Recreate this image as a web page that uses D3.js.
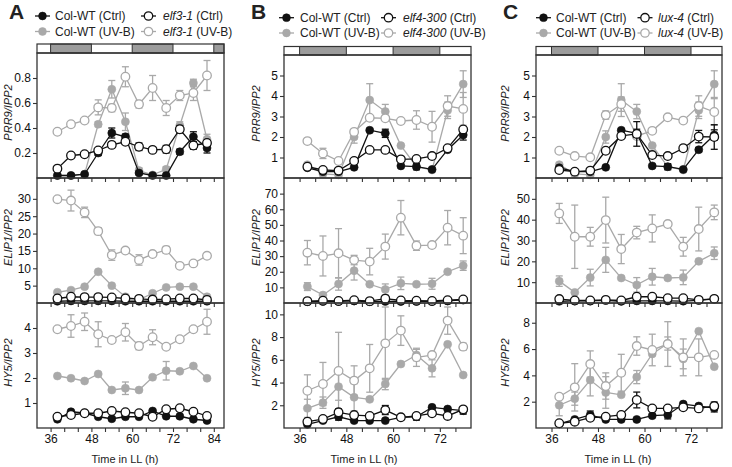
<!DOCTYPE html>
<html>
<head>
<meta charset="utf-8">
<script src="https://cdn.jsdelivr.net/npm/d3@7"></script>
<style>
  body { margin: 0; background: #fff; }
  svg { font-family: Arial, "Liberation Sans", sans-serif; }
</style>
</head>
<body>
<svg id="chart" width="732" height="467"></svg>
<script>
// sampling times (h in LL)
const timesA = [38, 42, 46, 50, 54, 58, 62, 66, 70, 74, 78, 82];
const timesBC = [38, 42, 46, 50, 54, 58, 62, 66, 70, 74, 78];
const xTicksA = [36, 40, 44, 48, 52, 56, 60, 64, 68, 72, 76, 80, 84];
const xTicksBC = [36, 40, 44, 48, 52, 56, 60, 64, 68, 72, 76];
const subjectiveNight = [[36, 48], [60, 72], [84, 96]];

// --- panel A (elf3-1) ---
const A_prr9_colCtrl = [0.02, 0.02, 0.03, 0.20, 0.36, 0.33, 0.04, 0.02, 0.02, 0.21, 0.33, 0.24];
const A_prr9_colCtrlErr = [0, 0, 0, 0.02, 0.04, 0.02, 0.01, 0, 0, 0.02, 0.04, 0.04];
const A_prr9_colUvb = [0.02, 0.02, 0.03, 0.43, 0.71, 0.45, 0.06, 0.025, 0.07, 0.42, 0.76, 0.31];
const A_prr9_colUvbErr = [0, 0, 0, 0.02, 0.07, 0.07, 0.02, 0, 0.02, 0.03, 0.03, 0.04];
const A_prr9_mutCtrl = [0.075, 0.18, 0.19, 0.22, 0.265, 0.29, 0.25, 0.225, 0.23, 0.39, 0.26, 0.28];
const A_prr9_mutCtrlErr = [0, 0.01, 0.01, 0.01, 0.02, 0.02, 0.03, 0.01, 0.03, 0.03, 0.03, 0.02];
const A_prr9_mutUvb = [0.37, 0.43, 0.46, 0.565, 0.56, 0.81, 0.59, 0.72, 0.56, 0.66, 0.68, 0.82];
const A_prr9_mutUvbErr = [0, 0, 0, 0.06, 0.03, 0.08, 0.03, 0.1, 0.06, 0.04, 0.06, 0.12];

const A_elip_colCtrl = [0.5, 0.6, 0.6, 0.6, 0.6, 0.5, 0.5, 0.5, 0.5, 0.5, 0.5, 0.5];
const A_elip_colCtrlErr = [0, 0, 0, 0, 0, 0, 0, 0, 0, 0, 0, 0];
const A_elip_colUvb = [3.1, 3.7, 4.7, 9.0, 5.0, 1.8, 0.9, 2.8, 4.5, 4.7, 4.7, 1.8];
const A_elip_colUvbErr = [0, 0, 0, 0, 0, 0, 0, 0, 0, 0, 0, 0];
const A_elip_mutCtrl = [1.3, 1.8, 1.7, 1.7, 1.6, 1.3, 1.2, 1.0, 1.1, 1.3, 1.3, 0.9];
const A_elip_mutCtrlErr = [0, 0, 0, 0, 0, 0, 0, 0, 0, 0, 0, 0];
const A_elip_mutUvb = [29.9, 29.5, 26.1, 20.7, 13.8, 15.1, 12.4, 14.1, 15.3, 10.7, 11.4, 13.6];
const A_elip_mutUvbErr = [0, 3, 1.5, 1, 1.5, 0, 1.5, 0, 1, 0, 0, 0];

const A_hy5_colCtrl = [0.35, 0.65, 0.6, 0.45, 0.37, 0.45, 0.45, 0.68, 0.47, 0.47, 0.35, 0.3];
const A_hy5_colCtrlErr = [0, 0, 0, 0, 0, 0, 0, 0, 0, 0, 0, 0.05];
const A_hy5_colUvb = [2.08, 1.99, 1.88, 2.16, 1.52, 1.59, 1.52, 2.03, 2.29, 2.27, 2.48, 1.99];
const A_hy5_colUvbErr = [0, 0, 0, 0, 0, 0.25, 0, 0, 0.37, 0, 0, 0];
const A_hy5_mutCtrl = [0.45, 0.52, 0.59, 0.59, 0.68, 0.63, 0.59, 0.45, 0.75, 0.79, 0.65, 0.48];
const A_hy5_mutCtrlErr = [0, 0, 0, 0, 0, 0, 0, 0, 0.08, 0, 0, 0];
const A_hy5_mutUvb = [3.95, 4.08, 4.25, 3.75, 3.52, 3.83, 3.28, 3.63, 3.25, 3.55, 3.95, 4.25];
const A_hy5_mutUvbErr = [0, 0.45, 0.35, 0.5, 0, 0.35, 0.15, 0.3, 0, 0, 0.1, 0.5];

// --- Col-WT shared by panels B and C ---
const BC_prr9_colCtrl = [0.5, 0.31, 0.31, 0.52, 2.33, 2.18, 0.59, 0.55, 0.42, 1.38, 2.1];
const BC_prr9_colCtrlErr = [0, 0, 0, 0, 0.05, 0.2, 0, 0.15, 0, 0.1, 0.25];
const BC_prr9_colUvb = [0.65, 0.2, 0.15, 2.0, 3.8, 3.24, 1.58, 0.55, 0.39, 3.3, 4.58];
const BC_prr9_colUvbErr = [0, 0, 0, 0.3, 0.8, 0.35, 0, 0.1, 0, 0.4, 0.65];
const BC_elip_colCtrl = [0.8, 1.0, 1.0, 1.3, 0.8, 1.0, 1.0, 1.0, 0.9, 1.3, 2.0];
const BC_elip_colCtrlErr = [0, 0, 0, 0, 0, 0, 0, 0, 0, 0, 0];
const BC_elip_colUvb = [10.5, 5.1, 12.2, 20.7, 12, 8.7, 12.6, 12, 12.3, 20, 23.9];
const BC_elip_colUvbErr = [2.5, 0, 4, 6, 0, 3.5, 4, 0, 3.5, 0, 3];
const BC_hy5_colCtrl = [0.32, 0.65, 0.99, 0.65, 0.65, 0.65, 0.94, 0.99, 1.82, 1.67, 1.52];
const BC_hy5_colCtrlErr = [0, 0, 0.3, 0, 0, 0, 0, 0.3, 0, 0, 0.3];
const BC_hy5_colUvb = [1.73, 2.23, 3.64, 2.7, 2.52, 3.87, 5.63, 6.42, 5.25, 7.36, 4.66];
const BC_hy5_colUvbErr = [0.8, 0.5, 1.2, 1.2, 0, 0.5, 0, 0.5, 0.75, 0, 0];

// --- panel B (elf4-300) ---
const B_prr9_mutCtrl = [0.55, 0.39, 0.36, 0.83, 1.37, 1.37, 0.91, 0.93, 1.07, 1.45, 2.37];
const B_prr9_mutCtrlErr = [0, 0, 0, 0, 0, 0.1, 0, 0, 0, 0, 0.1];
const B_prr9_mutUvb = [1.8, 1.2, 0.83, 2.25, 2.94, 2.91, 2.78, 2.83, 2.5, 3.51, 3.37];
const B_prr9_mutUvbErr = [0, 0.25, 0, 0, 0, 0.1, 0, 0.45, 0.75, 0.5, 0.8];
const B_elip_mutCtrl = [1.2, 1.5, 1.3, 1.8, 1.2, 2.8, 1.6, 1.5, 1.3, 1.8, 2.3];
const B_elip_mutCtrlErr = [0, 0, 0, 0, 0, 0, 0, 0, 0, 0, 0];
const B_elip_mutUvb = [32.2, 30.1, 31.8, 27.5, 26.5, 36.1, 54.6, 36.7, 37.1, 48.2, 43.1];
const B_elip_mutUvbErr = [7.8, 12.8, 15.8, 3, 8.5, 8, 11, 3, 0, 11, 11.5];
const B_hy5_mutCtrl = [0.56, 0.79, 1.38, 1.14, 1.06, 1.58, 0.94, 1.06, 1.29, 1.06, 1.64];
const B_hy5_mutCtrlErr = [0, 0, 0.3, 0, 0, 0.4, 0, 0, 0, 0, 0.2];
const B_hy5_mutUvb = [3.28, 3.87, 5.02, 4.17, 5.25, 7.45, 8.57, 6.22, 6.42, 9.45, 7.16];
const B_hy5_mutUvbErr = [1.4, 1.9, 3.4, 1.3, 2.1, 3.2, 1.3, 0.8, 0, 1.2, 0.3];

// --- panel C (lux-4) ---
const C_prr9_mutCtrl = [0.39, 0.31, 0.36, 1.33, 2.05, 2.15, 1.12, 1.07, 1.45, 2.02, 2.0];
const C_prr9_mutCtrlErr = [0, 0, 0, 0, 0, 0.6, 0, 0, 0.15, 0.3, 0.6];
const C_prr9_mutUvb = [1.33, 1.07, 1.01, 3.07, 3.6, 2.05, 2.3, 2.96, 2.8, 3.51, 3.22];
const C_prr9_mutUvbErr = [0, 0, 0, 0.2, 0.35, 0, 0, 0.1, 0, 0.5, 0.65];
const C_elip_mutCtrl = [1.9, 1.2, 1.2, 1.5, 1.2, 3.0, 3.0, 2.3, 2.3, 1.5, 2.0];
const C_elip_mutCtrlErr = [0, 0, 0, 0, 0, 0, 0, 0, 0, 0, 0];
const C_elip_mutUvb = [43.0, 31.8, 31.8, 39.8, 25.9, 33.8, 35.8, 37.9, 27.0, 35.5, 43.5];
const C_elip_mutUvbErr = [4.8, 15.2, 4.5, 11, 7, 3, 6.5, 1, 4.5, 10.5, 3.5];
const C_hy5_mutCtrl = [0.36, 0.48, 0.78, 0.86, 0.99, 2.13, 1.49, 1.49, 1.57, 1.49, 1.67];
const C_hy5_mutCtrlErr = [0, 0, 0, 0, 0, 0.6, 0.2, 0, 0, 0, 0.3];
const C_hy5_mutUvb = [2.38, 3.09, 4.86, 3.19, 4.2, 6.23, 5.93, 6.38, 5.37, 5.37, 5.55];
const C_hy5_mutUvbErr = [0.2, 1.8, 1.0, 1.0, 1.4, 0.7, 1.2, 1.7, 1.4, 1.4, 0];

const geneLabels = ['PRR9/IPP2', 'ELIP1/IPP2', 'HY5/IPP2'];

const BLACK = '#111';
const GREY = '#a9a9a9';
const FRAME = '#333';

// series: [values, errors]  order: colCtrl, colUvb, mutCtrl, mutUvb
const panels = [
  {
    letter: 'A', letterX: 9, mutant: 'elf3-1',
    xDomain: [32, 87], xRange: [37, 224], times: timesA, xTicks: xTicksA,
    barTop: 44, rows: [53, 178, 303, 428],
    legend: { c1: 42.5, t1: 55, c2: 148.5, t2: 163, y1: 16, y2: 31.5 },
    yTitleX: 12, timeX: 125,
    genes: [
      { domain: [0, 1], ticks: [0.2, 0.4, 0.6, 0.8], fmt: d3.format('.1f'),
        s: [[A_prr9_colCtrl, A_prr9_colCtrlErr], [A_prr9_colUvb, A_prr9_colUvbErr], [A_prr9_mutCtrl, A_prr9_mutCtrlErr], [A_prr9_mutUvb, A_prr9_mutUvbErr]] },
      { domain: [0, 36], ticks: [5, 10, 15, 20, 25, 30], fmt: d3.format('d'),
        s: [[A_elip_colCtrl, A_elip_colCtrlErr], [A_elip_colUvb, A_elip_colUvbErr], [A_elip_mutCtrl, A_elip_mutCtrlErr], [A_elip_mutUvb, A_elip_mutUvbErr]] },
      { domain: [0, 5], ticks: [1, 2, 3, 4], fmt: d3.format('d'),
        s: [[A_hy5_colCtrl, A_hy5_colCtrlErr], [A_hy5_colUvb, A_hy5_colUvbErr], [A_hy5_mutCtrl, A_hy5_mutCtrlErr], [A_hy5_mutUvb, A_hy5_mutUvbErr]] }
    ]
  },
  {
    letter: 'B', letterX: 251, mutant: 'elf4-300',
    xDomain: [32, 80], xRange: [284, 471], times: timesBC, xTicks: xTicksBC,
    barTop: 46.5, rows: [55, 178, 303, 428],
    legend: { c1: 286.5, t1: 300, c2: 388.5, t2: 403, y1: 17.7, y2: 33 },
    yTitleX: 260, timeX: 364,
    genes: [
      { domain: [0, 6], ticks: [1, 2, 3, 4, 5], fmt: d3.format('d'),
        s: [[BC_prr9_colCtrl, BC_prr9_colCtrlErr], [BC_prr9_colUvb, BC_prr9_colUvbErr], [B_prr9_mutCtrl, B_prr9_mutCtrlErr], [B_prr9_mutUvb, B_prr9_mutUvbErr]] },
      { domain: [0, 80], ticks: [10, 20, 30, 40, 50, 60, 70], fmt: d3.format('d'),
        s: [[BC_elip_colCtrl, BC_elip_colCtrlErr], [BC_elip_colUvb, BC_elip_colUvbErr], [B_elip_mutCtrl, B_elip_mutCtrlErr], [B_elip_mutUvb, B_elip_mutUvbErr]] },
      { domain: [0, 11], ticks: [2, 4, 6, 8, 10], fmt: d3.format('d'),
        s: [[BC_hy5_colCtrl, BC_hy5_colCtrlErr], [BC_hy5_colUvb, BC_hy5_colUvbErr], [B_hy5_mutCtrl, B_hy5_mutCtrlErr], [B_hy5_mutUvb, B_hy5_mutUvbErr]] }
    ]
  },
  {
    letter: 'C', letterX: 503, mutant: 'lux-4',
    xDomain: [32, 80], xRange: [536, 722], times: timesBC, xTicks: xTicksBC,
    barTop: 46.5, rows: [55, 178, 303, 428],
    legend: { c1: 543.5, t1: 556, c2: 645, t2: 658, y1: 17.7, y2: 33 },
    yTitleX: 509, timeX: 618,
    genes: [
      { domain: [0, 6], ticks: [1, 2, 3, 4, 5], fmt: d3.format('d'),
        s: [[BC_prr9_colCtrl, BC_prr9_colCtrlErr], [BC_prr9_colUvb, BC_prr9_colUvbErr], [C_prr9_mutCtrl, C_prr9_mutCtrlErr], [C_prr9_mutUvb, C_prr9_mutUvbErr]] },
      { domain: [0, 60], ticks: [10, 20, 30, 40, 50], fmt: d3.format('d'),
        s: [[BC_elip_colCtrl, BC_elip_colCtrlErr], [BC_elip_colUvb, BC_elip_colUvbErr], [C_elip_mutCtrl, C_elip_mutCtrlErr], [C_elip_mutUvb, C_elip_mutUvbErr]] },
      { domain: [0, 9.5], ticks: [2, 4, 6, 8], fmt: d3.format('d'),
        s: [[BC_hy5_colCtrl, BC_hy5_colCtrlErr], [BC_hy5_colUvb, BC_hy5_colUvbErr], [C_hy5_mutCtrl, C_hy5_mutCtrlErr], [C_hy5_mutUvb, C_hy5_mutUvbErr]] }
    ]
  }
];

// colCtrl, colUvb, mutCtrl, mutUvb
const styles = [
  { color: BLACK, open: false },
  { color: GREY, open: false },
  { color: BLACK, open: true },
  { color: GREY, open: true }
];
const drawOrder = [1, 3, 0, 2];

const svg = d3.select('#chart');

function drawMarker(g, cx, cy, st, r) {
  g.append('circle')
    .attr('cx', cx).attr('cy', cy).attr('r', st.open ? r : r - 0.3)
    .attr('fill', st.open ? '#fff' : st.color)
    .attr('stroke', st.color)
    .attr('stroke-width', st.open ? 1.3 : 0.6);
}

panels.forEach(p => {
  const x = d3.scaleLinear().domain(p.xDomain).range(p.xRange);
  const root = svg.append('g');

  // panel letter
  root.append('text').attr('x', p.letterX).attr('y', 18.5)
    .attr('font-size', 21).attr('font-weight', 'bold').attr('fill', '#222')
    .text(p.letter);

  // legend
  const L = p.legend;
  const legendItems = [
    { st: styles[0], cx: L.c1, tx: L.t1, y: L.y1, name: 'Col-WT', rest: ' (Ctrl)', italic: false },
    { st: styles[1], cx: L.c1, tx: L.t1, y: L.y2, name: 'Col-WT', rest: ' (UV-B)', italic: false },
    { st: styles[2], cx: L.c2, tx: L.t2, y: L.y1, name: p.mutant, rest: ' (Ctrl)', italic: true },
    { st: styles[3], cx: L.c2, tx: L.t2, y: L.y2, name: p.mutant, rest: ' (UV-B)', italic: true }
  ];
  legendItems.forEach(it => {
    root.append('line').attr('x1', it.cx - 7.5).attr('x2', it.cx + 7.5)
      .attr('y1', it.y).attr('y2', it.y)
      .attr('stroke', it.st.color).attr('stroke-width', 1.3);
    drawMarker(root, it.cx, it.y, it.st, 4.2);
    const t = root.append('text').attr('x', it.tx).attr('y', it.y + 4.4)
      .attr('font-size', 12).attr('fill', '#222');
    t.append('tspan').attr('font-style', it.italic ? 'italic' : 'normal').text(it.name);
    t.append('tspan').text(it.rest);
  });

  // light / dark bar
  const barH = p.rows[0] - p.barTop;
  root.append('rect').attr('x', p.xRange[0]).attr('y', p.barTop)
    .attr('width', p.xRange[1] - p.xRange[0]).attr('height', barH)
    .attr('fill', '#fff');
  subjectiveNight.forEach(([a, b]) => {
    const a1 = Math.max(a, p.xDomain[0]), b1 = Math.min(b, p.xDomain[1]);
    if (b1 <= a1) return;
    root.append('rect').attr('x', x(a1)).attr('y', p.barTop)
      .attr('width', x(b1) - x(a1)).attr('height', barH)
      .attr('fill', '#9c9c9c').attr('stroke', FRAME).attr('stroke-width', 1);
  });
  root.append('rect').attr('x', p.xRange[0]).attr('y', p.barTop)
    .attr('width', p.xRange[1] - p.xRange[0]).attr('height', barH)
    .attr('fill', 'none').attr('stroke', FRAME).attr('stroke-width', 1.2);

  p.genes.forEach((gene, i) => {
    const top = p.rows[i], bottom = p.rows[i + 1];
    const y = d3.scaleLinear().domain(gene.domain).range([bottom, top]);
    const g = root.append('g');

    // y axis
    const ya = g.append('g').attr('transform', `translate(${p.xRange[0]},0)`)
      .call(d3.axisLeft(y).tickValues(gene.ticks).tickSize(4).tickPadding(2).tickFormat(gene.fmt));
    ya.select('.domain').remove();
    ya.selectAll('line').attr('stroke', FRAME).attr('stroke-width', 1.1);
    ya.selectAll('text').attr('font-size', 12).attr('fill', '#111')
      .attr('font-family', 'Arial, "Liberation Sans", sans-serif');

    // x axis (ticks every 4 h, labels only on the bottom panel)
    const xa = g.append('g').attr('transform', `translate(0,${bottom})`)
      .call(d3.axisBottom(x).tickValues(p.xTicks).tickSize(4).tickSizeOuter(0).tickPadding(2)
        .tickFormat(d => (i === 2 && d % 12 === 0) ? d : ''));
    xa.select('.domain').remove();
    xa.selectAll('line').attr('stroke', FRAME).attr('stroke-width', 1.1);
    xa.selectAll('text').attr('font-size', 12).attr('fill', '#111')
      .attr('font-family', 'Arial, "Liberation Sans", sans-serif');

    // y title
    g.append('text')
      .attr('transform', `translate(${p.yTitleX},${(top + bottom) / 2 - 3}) rotate(-90)`)
      .attr('text-anchor', 'middle').attr('font-size', 11).attr('font-style', 'italic')
      .attr('fill', '#222').text(geneLabels[i]);

    // series
    drawOrder.forEach(si => {
      const st = styles[si];
      const [vals, errs] = gene.s[si];
      const data = p.times.map((t, k) => ({ t, v: vals[k], e: errs[k] }));
      const sg = g.append('g');

      sg.append('path').datum(data)
        .attr('fill', 'none').attr('stroke', st.color).attr('stroke-width', 1.3)
        .attr('d', d3.line().x(d => x(d.t)).y(d => y(d.v)));

      data.filter(d => d.e > 0).forEach(d => {
        const cx = x(d.t);
        const y1 = y(Math.min(d.v + d.e, gene.domain[1])), y2 = y(Math.max(d.v - d.e, gene.domain[0]));
        sg.append('line').attr('x1', cx).attr('x2', cx).attr('y1', y1).attr('y2', y2)
          .attr('stroke', st.color).attr('stroke-width', 1.3);
        [y1, y2].forEach(yy => {
          sg.append('line').attr('x1', cx - 3.5).attr('x2', cx + 3.5).attr('y1', yy).attr('y2', yy)
            .attr('stroke', st.color).attr('stroke-width', 1.3);
        });
      });

      data.forEach(d => drawMarker(sg, x(d.t), y(d.v), st, 4.3));
    });

    // frame
    g.append('rect').attr('x', p.xRange[0]).attr('y', top)
      .attr('width', p.xRange[1] - p.xRange[0]).attr('height', bottom - top)
      .attr('fill', 'none').attr('stroke', FRAME).attr('stroke-width', 1.3);
  });

  // x title
  root.append('text').attr('x', p.timeX).attr('y', 463)
    .attr('text-anchor', 'middle').attr('font-size', 11).attr('fill', '#222')
    .text('Time in LL (h)');
});
</script>
</body>
</html>
